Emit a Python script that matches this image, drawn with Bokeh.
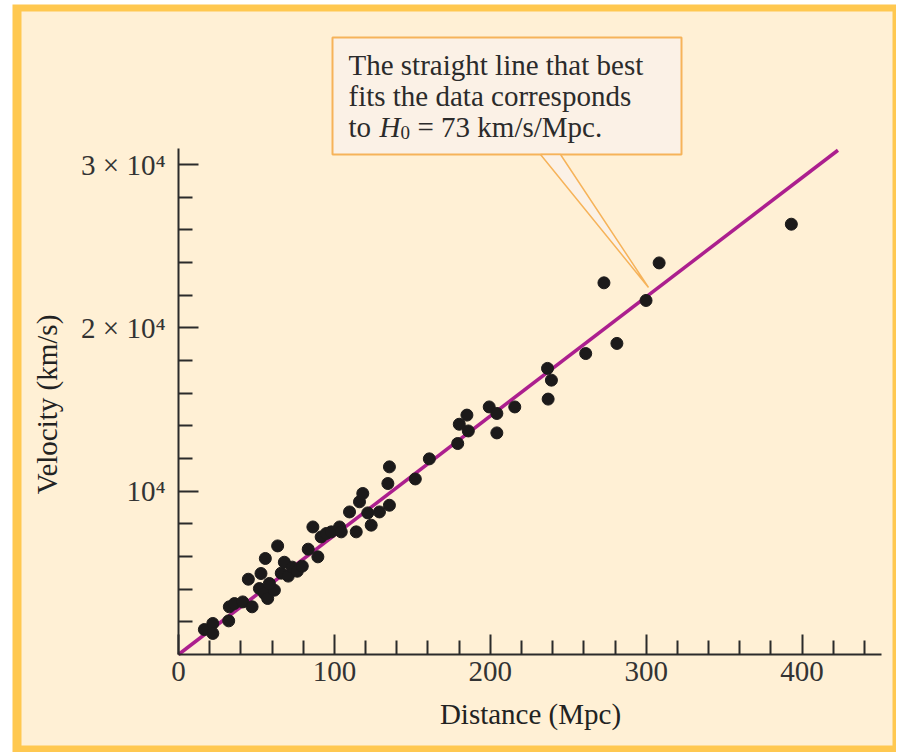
import math
from bokeh.plotting import figure
from bokeh.models import (Range1d, FixedTicker, Label, BoxAnnotation,
                          PolyAnnotation)
from bokeh.embed import file_html
from bokeh.resources import INLINE

# ---- data ----
distance_mpc = [16.6, 22.0, 22.0, 32.2, 32.6, 35.9, 41.2, 47.2, 44.8, 52.9,
                55.7, 63.6, 51.9, 55.1, 57.2, 61.5, 58.3, 65.9, 67.9, 70.4,
                73.0, 76.2, 79.4, 83.2, 86.2, 89.4, 91.5, 94.8, 98.0, 103.3,
                104.4, 109.7, 114.0, 116.1, 118.2, 121.4, 123.6, 128.9, 134.3, 135.3,
                135.3, 151.9, 160.9, 179.1, 180.1, 185.0, 185.9, 199.3, 204.2, 204.2,
                215.7, 237.1, 236.7, 239.2, 261.2, 281.2, 272.9, 299.9, 308.3, 393.1]
velocity_kms = [1530, 1900, 1290, 2060, 2920, 3120, 3220, 2920, 4610, 4960,
                5880, 6650, 4040, 3740, 3430, 3940, 4350, 4980, 5650, 4800,
                5350, 5100, 5410, 6450, 7810, 5980, 7200, 7410, 7510, 7810,
                7510, 8730, 7510, 9350, 9860, 8670, 7920, 8730, 10470, 11490,
                9140, 10750, 11980, 12920, 14100, 14660, 13690, 15160, 14760, 13570,
                15160, 15640, 17520, 16800, 18430, 19050, 22760, 21680, 23980, 26350]

H0 = 73  # km/s/Mpc
fit_x = [0, 423]
fit_y = [H0 * d for d in fit_x]

x_axis_extent = [0, 451]
y_axis_extent = [0, 31000]
x_major = [0, 100, 200, 300, 400]
x_minor = [20, 40, 60, 80, 120, 140, 160, 180, 220, 240, 260, 280,
           320, 340, 360, 380, 420, 440]
y_major = [10000, 20000, 30000]
y_minor = [2000, 4000, 6000, 8000, 12000, 14000, 16000, 18000,
           22000, 24000, 26000, 28000]
y_labels = {10000: "10⁴", 20000: "2 × 10⁴", 30000: "3 × 10⁴"}

x_title = "Distance (Mpc)"
y_title = "Velocity (km/s)"
note_lines = ["The straight line that best", "fits the data corresponds"]

# ---- colours / fonts ----
CREAM = "#FFF0D5"
FRAME = "#FFC850"
BOX_FILL = "#FBF1E6"
BOX_LINE = "#F6B35A"
INK = "#2b2b2b"
FIT = "#AC1F8E"
SERIF = "Liberation Serif"

# ---- canvas geometry (pixels) ----
W, H = 896, 752
X0, Y0 = 178, 654            # pixel position of the data origin
SX = 1.559                   # px per Mpc
SY = 163.3 / 10000           # px per km/s


def dx(px):
    return (px - X0) / SX


def dy(py):
    return (Y0 - py) / SY


p = figure(width=W, height=H,
           x_range=Range1d(dx(0), dx(W)), y_range=Range1d(dy(H), dy(0)),
           output_backend="svg", toolbar_location=None, min_border=0)
p.background_fill_color = "white"
p.border_fill_color = "white"
p.outline_line_color = None
p.grid.visible = False

# page frame: orange border and cream panel
p.add_layout(BoxAnnotation(left=dx(12), right=dx(W), top=dy(4), bottom=dy(H),
                           fill_color=FRAME, fill_alpha=1.0, line_color=None,
                           level="underlay"))
p.add_layout(BoxAnnotation(left=dx(21), right=dx(892), top=dy(11), bottom=dy(745),
                           fill_color=CREAM, fill_alpha=1.0, line_color=None,
                           level="underlay"))

# axes drawn at the data origin
for ax in (p.xaxis[0], p.yaxis[0]):
    ax.fixed_location = 0
    ax.axis_line_color = INK
    ax.axis_line_width = 2
    ax.major_tick_line_color = INK
    ax.major_tick_line_width = 2
    ax.minor_tick_line_color = INK
    ax.minor_tick_line_width = 2
    ax.major_tick_in = 20
    ax.major_tick_out = 0
    ax.minor_tick_in = 14
    ax.minor_tick_out = 0
    ax.major_label_text_font = SERIF
    ax.major_label_text_font_size = "29px"
    ax.major_label_text_color = "#333333"

p.xaxis.ticker = FixedTicker(ticks=x_major, minor_ticks=x_minor)
p.yaxis.ticker = FixedTicker(ticks=y_major, minor_ticks=y_minor)
p.xaxis.bounds = tuple(x_axis_extent)
p.yaxis.bounds = tuple(y_axis_extent)
p.yaxis.major_label_overrides = y_labels
p.xaxis.major_label_standoff = 7
p.yaxis.major_label_standoff = 13

# axis titles
p.add_layout(Label(x=dx(530), y=dy(713), text=x_title, text_align="center",
                   text_baseline="alphabetic", text_font=SERIF,
                   text_font_size="29px", text_color="#222222"))
p.add_layout(Label(x=dx(46), y=dy(404), text=y_title, angle=math.pi / 2,
                   text_align="center", text_baseline="middle",
                   text_font=SERIF, text_font_size="29px", text_color="#222222"))

# best-fit line and data
p.line(fit_x, fit_y, line_color=FIT, line_width=3.5)
p.scatter(distance_mpc, velocity_kms, size=12, fill_color="#1c1a1a",
          line_color="#1c1a1a")

# callout box and pointer
p.add_layout(BoxAnnotation(left=dx(332), right=dx(681), top=dy(37), bottom=dy(154),
                           fill_color=BOX_FILL, fill_alpha=1.0,
                           line_color=BOX_LINE, line_alpha=1.0, line_width=2))
p.add_layout(PolyAnnotation(xs=[dx(540), dx(648), dx(560)],
                            ys=[dy(154), dy(287), dy(154)],
                            fill_color=BOX_FILL, fill_alpha=1.0,
                            line_color=BOX_LINE, line_alpha=1.0, line_width=1.5))

TXT = dict(text_font=SERIF, text_font_size="29px", text_color=INK,
           text_baseline="alphabetic")
tx = dx(348)
p.add_layout(Label(x=tx, y=dy(64), text=note_lines[0], **TXT))
p.add_layout(Label(x=tx, y=dy(95), text=note_lines[1], **TXT))
p.add_layout(Label(x=tx, y=dy(126), text="to", **TXT))
p.add_layout(Label(x=tx, y=dy(126), x_offset=31, text="H",
                   text_font_style="italic", **TXT))
p.add_layout(Label(x=tx, y=dy(126), x_offset=52, y_offset=-6, text="0",
                   text_font=SERIF, text_font_size="19px", text_color=INK,
                   text_baseline="alphabetic"))
p.add_layout(Label(x=tx, y=dy(126), x_offset=69,
                   text=f"= {H0} km/s/Mpc.", **TXT))

open("out.html", "w").write(file_html(p, INLINE))
